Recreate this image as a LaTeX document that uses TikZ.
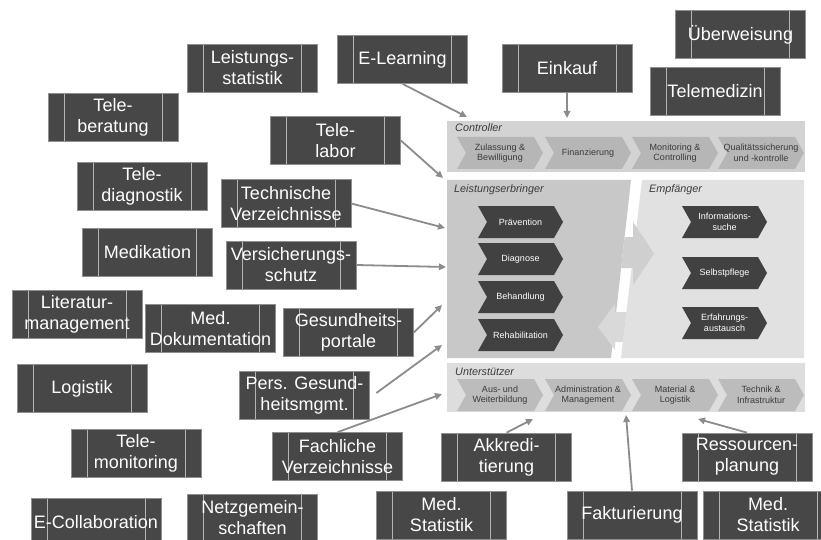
\documentclass[tikz,border=0pt]{standalone}
\usepackage{fontspec}
\setmainfont{Liberation Sans}
\usetikzlibrary{arrows.meta}

\definecolor{boxfill}{HTML}{474747}
\definecolor{boxedge}{HTML}{8F8F8F}
\definecolor{innerline}{HTML}{B4B4B4}
\definecolor{connclr}{HTML}{8C8C8C}
\definecolor{ctrlbg}{HTML}{D3D3D3}
\definecolor{ctrlchev}{HTML}{B6B6B6}
\definecolor{leftbg}{HTML}{C8C8C8}
\definecolor{rightbg}{HTML}{E1E1E1}
\definecolor{suppbg}{HTML}{DDDDDD}
\definecolor{suppchev}{HTML}{BCBCBC}
\definecolor{darkchev}{HTML}{414141}
\definecolor{labelclr}{HTML}{3A3A3A}
\definecolor{flowright}{HTML}{CFCFCF}
\definecolor{flowleft}{HTML}{D9D9D9}

\tikzset{
  procbox/.style={rectangle, fill=boxfill, draw=boxedge, line width=0.7pt,
    minimum width=130pt, minimum height=48pt, inner sep=0pt,
    text=white, align=center, font=\fontsize{18}{21}\selectfont,
    path picture={
      \draw[innerline, line width=0.9pt]
        ([xshift=16pt]path picture bounding box.north west) --
        ([xshift=16pt]path picture bounding box.south west);
      \draw[innerline, line width=0.9pt]
        ([xshift=-16pt]path picture bounding box.north east) --
        ([xshift=-16pt]path picture bounding box.south east);
    }},
  conn/.style={draw=connclr, line width=1.8pt, -{Triangle[length=7pt,width=6.5pt]}},
  lanelabel/.style={font=\fontsize{10.8}{12}\selectfont\itshape, text=labelclr,
    anchor=west, inner sep=0pt},
  chevtxt/.style={font=\fontsize{9}{10.5}\selectfont, align=center,
    inner sep=0pt, text=labelclr},
  darktxt/.style={chevtxt, text=white},
}

% chevron: name, left x, top y, width, fill colour, text style, text
\newcommand{\drawchevron}[7]{%
  \fill[#5] (#2,#3) -- ++(#4-9,0) -- ++(9,16) -- ++(-9,16) -- ++(9-#4,0) -- ++(9,-16) -- cycle;
  \node[#6] (#1) at (#2+#4/2,#3+16) {#7};}

\begin{document}
\begin{tikzpicture}[x=1pt,y=-1pt]
\useasboundingbox[fill=white] (0,0) rectangle (821,540);

% ---------- central value chain ----------
% Controller lane
\fill[ctrlbg] (447,121) rectangle (805,172);
\node[lanelabel] (lblctrl) at (455,128) {Controller};
\drawchevron{czul}{457}{137}{86}{ctrlchev}{chevtxt}{Zulassung \&\\Bewilligung}
\drawchevron{cfin}{545}{137}{86}{ctrlchev}{chevtxt}{Finanzierung}
\drawchevron{cmon}{632}{137}{86}{ctrlchev}{chevtxt}{Monitoring \&\\Controlling}
\drawchevron{cqua}{718}{137}{86}{ctrlchev}{chevtxt}{Qualitätssicherung\\und -kontrolle}

% Leistungserbringer / Empfaenger
\fill[leftbg] (447,180) -- (631,180) -- (611,358) -- (447,358) -- cycle;
\fill[rightbg] (642,180) -- (804,180) -- (804,358) -- (621,358) -- cycle;
% exchange arrows between both sides
\fill[flowright] (624.6,237) -- (633,237) -- (633,222) -- (654,253.5) -- (633,285)
  -- (633,268) -- (621.1,268) -- cycle;
\fill[flowleft] (626.4,312) -- (615,312) -- (615,304) -- (598,327) -- (615,350)
  -- (615,342) -- (622.9,342) -- cycle;
\node[lanelabel] (lbllei) at (454,190) {Leistungserbringer};
\node[lanelabel] (lblemp) at (649,190) {Empfänger};
\drawchevron{lpra}{478}{206}{85}{darkchev}{darktxt}{Prävention}
\drawchevron{ldia}{478}{243}{85}{darkchev}{darktxt}{Diagnose}
\drawchevron{lbeh}{478}{281}{85}{darkchev}{darktxt}{Behandlung}
\drawchevron{lreh}{478}{319}{85}{darkchev}{darktxt}{Rehabilitation}
\drawchevron{einf}{682}{206}{85}{darkchev}{darktxt}{Informations-\\suche}
\drawchevron{esel}{682}{257}{85}{darkchev}{darktxt}{Selbstpflege}
\drawchevron{eerf}{682}{307}{85}{darkchev}{darktxt}{Erfahrungs-\\austausch}

% Unterstuetzer lane
\fill[suppbg] (447,363) rectangle (805,412);
\node[lanelabel] (lblunt) at (455,372) {Unterstützer};
\drawchevron{uaus}{457}{379}{86}{suppchev}{chevtxt}{Aus- und\\Weiterbildung}
\drawchevron{uadm}{545}{379}{86}{suppchev}{chevtxt}{Administration \&\\Management}
\drawchevron{umat}{632}{379}{86}{suppchev}{chevtxt}{Material \&\\Logistik}
\drawchevron{utec}{718}{379}{86}{suppchev}{chevtxt}{Technik \&\\Infrastruktur}

% ---------- service boxes ----------
\node[procbox] (leistat) at (252.5,68) {Leistungs-\\statistik};
\node[procbox] (telebera) at (113,117) {Tele-\\beratung};
\node[procbox] (elearn) at (402.5,59.5) {E-Learning};
\node[procbox] (telelab) at (335.5,140.5) {Tele-\\labor};
\node[procbox] (telediag) at (142,186.5) {Tele-\\diagnostik};
\node[procbox] (einkauf) at (567,68) {Einkauf};
\node[procbox] (ueberw) at (740.5,34.5) {Überweisung};
\node[procbox] (telemed) at (715,91) {Telemedizin};
\node[procbox] (techverz) at (286,203.5) {Technische\\Verzeichnisse};
\node[procbox] (medik) at (147.5,252.5) {Medikation};
\node[procbox] (versich) at (291,265) {Versicherungs-\\schutz};
\node[procbox] (litman) at (77,314) {Literatur-\\management};
\node[procbox] (meddok) at (210.5,328.5) {Med.\\Dokumentation};
\node[procbox] (portale) at (348.5,332.5) {Gesundheits-\\portale};
\node[procbox] (logistik) at (82,388.5) {Logistik};
\node[procbox] (pers) at (304.5,395) {Pers. Gesund-\\heitsmgmt.};
\node[procbox] (telemon) at (136,453) {Tele-\\monitoring};
\node[procbox] (fachverz) at (337.5,456.5) {Fachliche\\Verzeichnisse};
\node[procbox] (akkred) at (506.5,457) {Akkredi-\\tierung};
\node[procbox] (ressourc) at (747,457) {Ressourcen-\\planung};
\node[procbox] (ecollab) at (96,522) {E-Collaboration};
\node[procbox] (netzgem) at (252.5,518) {Netzgemein-\\schaften};
\node[procbox] (medstatA) at (441.5,515) {Med.\\Statistik};
\node[procbox] (faktur) at (632,515) {Fakturierung};
\node[procbox] (medstatB) at (768,515) {Med.\\Statistik};

% ---------- arrow targets on the lanes ----------
\coordinate (tElearn) at (467,117);
\coordinate (tEinkauf) at (567,118);
\coordinate (tTelelab) at (443,178);
\coordinate (tTechverz) at (445,228);
\coordinate (tVersich) at (446,267);
\coordinate (tPortale) at (442,305);
\coordinate (tPers) at (442,345);
\coordinate (tFachverz) at (442,394);
\coordinate (tAkkred) at (533,419);
\coordinate (tFaktur) at (626,415);
\coordinate (tRessourc) at (698,419);

% ---------- connectors ----------
\draw[conn] (elearn.south) -- (tElearn);
\draw[conn] (einkauf.south) -- (tEinkauf);
\draw[conn] (telelab.east) -- (tTelelab);
\draw[conn] (techverz.east) -- (tTechverz);
\draw[conn] (versich.east) -- (tVersich);
\draw[conn] (portale.east) -- (tPortale);
\draw[conn] ([xshift=6.5pt,yshift=2pt]pers.east) -- (tPers);
\draw[conn] (fachverz.north) -- (tFachverz);
\draw[conn] (akkred.north) -- (tAkkred);
\draw[conn] (faktur.north) -- (tFaktur);
\draw[conn] (ressourc.north) -- (tRessourc);
\end{tikzpicture}
\end{document}
